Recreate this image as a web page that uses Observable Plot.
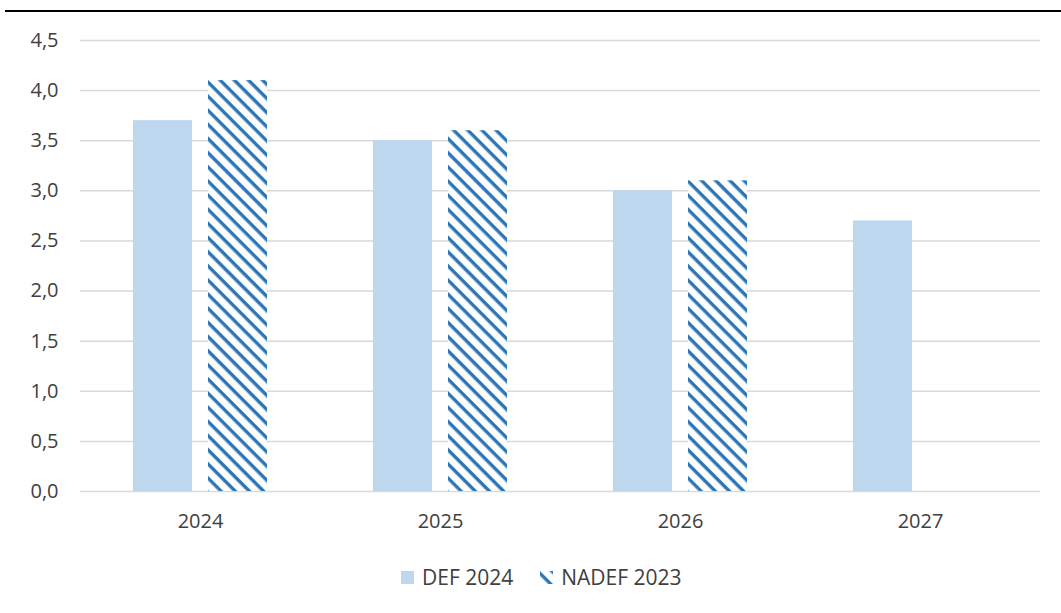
<!DOCTYPE html>
<html>
<head>
<meta charset="utf-8">
<script src="https://cdn.jsdelivr.net/npm/d3@7"></script>
<script src="https://cdn.jsdelivr.net/npm/@observablehq/plot@0.6"></script>
<style>
  body { margin: 0; background: #fff; font-family: "Open Sans", sans-serif; }
  #wrap { position: relative; width: 1061px; height: 613px; overflow: hidden; }
  #rule { position: absolute; left: 5px; right: 0; top: 10px; height: 2px; background: #000; }
  #chart { position: absolute; left: 0; top: 0; }
  #legend { position: absolute; top: 565px; left: 401px; display: flex; align-items: center;
            font-size: 21px; line-height: 24px; color: #404040; white-space: nowrap; }
  #legend .item { display: flex; align-items: center; }
  #legend svg { display: block; margin-right: 8px; }
</style>
</head>
<body>
<div id="wrap">
  <div id="rule"></div>
  <div id="chart"></div>
  <div id="legend"></div>
</div>
<script>
// Years on the category axis and the two forecast series
const years = ["2024", "2025", "2026", "2027"];
const seriesNames = ["DEF 2024", "NADEF 2023"];
const def2024 = [3.7, 3.5, 3.0, 2.7];
const nadef2023 = [4.1, 3.6, 3.1, null];
const yTicks = [0, 0.5, 1.0, 1.5, 2.0, 2.5, 3.0, 3.5, 4.0, 4.5];

const lightBlue = "#BDD7EE";
const stripeBlue = "#2E75B6";
const textColor = "#404040";

const defRows = years.map((year, i) => ({year, series: seriesNames[0], value: def2024[i]}));
const nadefRows = years
  .map((year, i) => ({year, series: seriesNames[1], value: nadef2023[i]}))
  .filter(d => d.value != null);

const fmt = d => d.toFixed(1).replace(".", ",");

const chart = Plot.plot({
  width: 1061,
  height: 540,
  marginTop: 40,
  marginBottom: 49,
  marginLeft: 79,
  marginRight: 21,
  style: {fontFamily: "'Open Sans', sans-serif", fontSize: "20px", color: textColor, background: "transparent"},
  fx: {domain: years, padding: 0, label: null, tickSize: 0, tickPadding: 22},
  x: {domain: seriesNames, paddingInner: 16 / 76, paddingOuter: 0.686, axis: null},
  y: {domain: [0, 4.5], ticks: yTicks, tickFormat: fmt, label: null, tickSize: 0, tickPadding: 22},
  marks: [
    Plot.gridY(yTicks, {stroke: "#d9d9d9", strokeOpacity: 1, strokeWidth: 1.5}),
    Plot.barY(defRows, {fx: "year", x: "series", y: "value", fill: lightBlue}),
    Plot.barY(nadefRows, {fx: "year", x: "series", y: "value", fill: "url(#hatch)"})
  ]
});

// Diagonal stripe pattern used by the NADEF bars
const svgEl = chart.tagName.toLowerCase() === "svg" ? chart : chart.querySelector("svg");
const defs = d3.select(svgEl).insert("defs", ":first-child");
const pat = defs.append("pattern")
  .attr("id", "hatch")
  .attr("patternUnits", "userSpaceOnUse")
  .attr("width", 10)
  .attr("height", 10)
  .attr("patternTransform", "rotate(45)");
pat.append("rect").attr("width", 10).attr("height", 10).attr("fill", "#fff");
pat.append("rect").attr("width", 10).attr("height", 3.4).attr("fill", stripeBlue);

document.getElementById("chart").appendChild(chart);

// Legend below the chart
const legend = d3.select("#legend");
const legendFills = [lightBlue, "url(#hatch)"];
seriesNames.forEach((name, i) => {
  const item = legend.append("div").attr("class", "item")
    .style("margin-right", i === 0 ? "27px" : "0px");
  const sw = item.append("svg").attr("width", 13).attr("height", 13);
  sw.append("rect").attr("width", 13).attr("height", 13).attr("fill", legendFills[i]);
  item.append("span").text(name);
});
</script>
</body>
</html>
